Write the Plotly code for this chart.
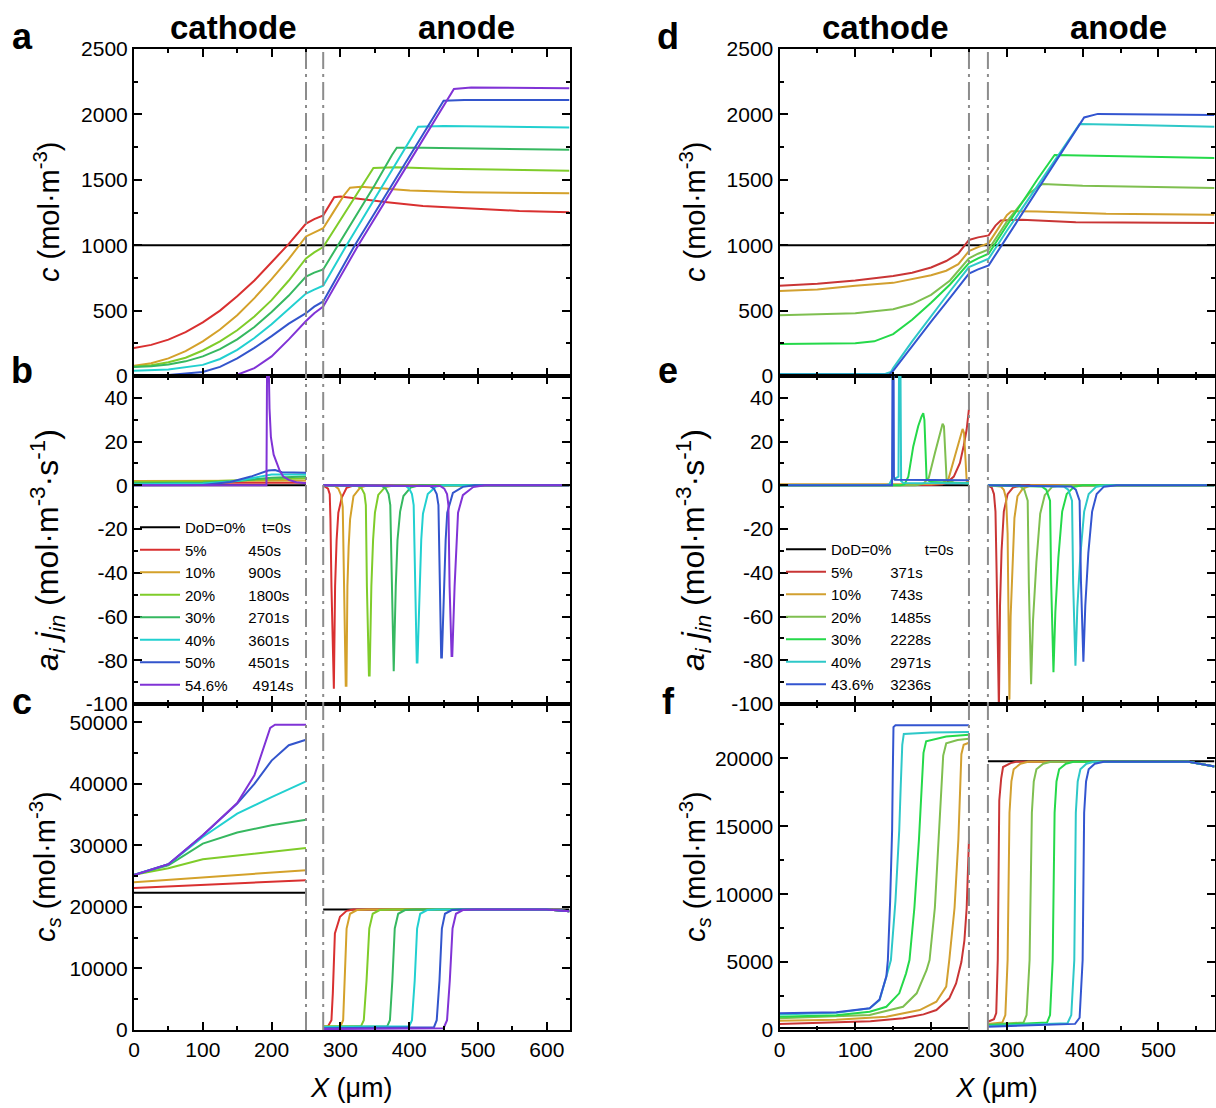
import plotly.graph_objects as go

FONT = "Arial, 'Liberation Sans', sans-serif"

# ---------------- legend text & colours ----------------
LEFT_DOD = ["DoD=0%", "5%", "10%", "20%", "30%", "40%", "50%", "54.6%"]
LEFT_TIME = ["t=0s", "450s", "900s", "1800s", "2701s", "3601s", "4501s", "4914s"]
LEFT_PAD = [4, 10, 8, 8, 8, 8, 8, 6]
RIGHT_DOD = ["DoD=0%", "5%", "10%", "20%", "30%", "40%", "43.6%"]
RIGHT_TIME = ["t=0s", "371s", "743s", "1485s", "2228s", "2971s", "3236s"]
RIGHT_PAD = [8, 9, 7, 7, 7, 7, 4]
LEFT_COLORS = ["#000000", "#d93030", "#d4a12a", "#7fcc2a", "#36b860", "#22d0d0", "#3355cc", "#8033d6"]
RIGHT_COLORS = ["#000000", "#c93535", "#d2a030", "#7fbf50", "#25d94a", "#2ec8c8", "#3355d0"]

# ---------------- panel a : c (left) ----------------
A0 = [(0, 1000), (633, 1000)]
A5 = [(0, 213), (25, 238), (50, 278), (75, 335), (100, 410), (125, 500), (150, 610), (175, 730), (200, 870),
      (225, 1010), (250, 1165), (262, 1200), (275, 1228), (283, 1300), (291, 1367), (300, 1372), (340, 1345),
      (368, 1329), (420, 1300), (494, 1278), (560, 1262), (633, 1252)]
A10 = [(0, 78), (25, 98), (50, 135), (75, 190), (100, 265), (125, 355), (150, 465), (175, 595), (200, 740),
       (225, 895), (250, 1067), (262, 1100), (275, 1130), (290, 1255), (305, 1380), (314, 1440), (330, 1447),
       (401, 1418), (480, 1405), (633, 1397)]
A20 = [(0, 72), (25, 82), (50, 105), (75, 140), (100, 195), (125, 265), (150, 350), (175, 455), (200, 580),
       (225, 730), (250, 899), (262, 945), (275, 986), (300, 1195), (325, 1400), (340, 1530), (348, 1590),
       (380, 1596), (450, 1585), (633, 1570)]
A30 = [(0, 68), (25, 74), (50, 88), (75, 112), (100, 150), (125, 205), (150, 280), (175, 375), (200, 490),
       (225, 615), (250, 760), (262, 790), (275, 815), (300, 1030), (325, 1245), (350, 1460), (375, 1690),
       (382, 1745), (420, 1745), (500, 1738), (633, 1730)]
A40 = [(0, 40), (50, 50), (100, 85), (125, 130), (150, 200), (175, 290), (200, 395), (225, 510), (250, 630),
       (262, 660), (275, 690), (309, 1000), (350, 1360), (400, 1795), (413, 1905), (450, 1912), (633, 1900)]
A50 = [(0, 5), (50, 8), (100, 30), (125, 70), (150, 135), (175, 215), (200, 305), (225, 400), (250, 480),
       (262, 530), (275, 570), (321, 1000), (380, 1505), (430, 1935), (450, 2104), (480, 2110), (633, 2110)]
A546 = [(0, 0), (100, 0), (150, 10), (175, 60), (200, 150), (225, 280), (250, 420), (262, 480), (275, 530),
        (326, 1000), (400, 1635), (455, 2110), (465, 2195), (490, 2205), (633, 2200)]

# ---------------- panel b : a_i j_in (left) ----------------
B0_CAT = [(0, 0), (250, 0)]
B0_AN = [(275, 0), (633, 0)]
B5_CAT = [(0, 1.2), (250, 1.2)]
B5_AN = [(275, 0), (278, -0.5), (282, -1.5), (284.5, -4), (285.5, -15), (287, -46), (289.5, -93), (290.5, -93),
         (292.3, -46), (294.5, -25), (297, -12.5), (302, -5.6), (309, -1.1), (320, 0), (633, 0)]
B10_CAT = [(0, 2.0), (250, 2.2)]
B10_AN = [(275, 0), (292, -0.3), (297, -1.5), (301, -4.5), (303.4, -10), (305, -46), (307.8, -91.6),
          (308.8, -91.6), (310.2, -46), (312, -28), (314.1, -15.5), (319, -4.9), (328.7, -1), (340, 0), (633, 0)]
B20_CAT = [(0, 1.5), (100, 1.8), (200, 2.8), (250, 3.2)]
B20_AN = [(275, 0), (325, -0.3), (331, -1.5), (335, -4), (337, -9), (338.5, -46), (341.5, -87), (342.5, -87),
          (345, -46), (347.5, -25), (350.2, -12.5), (355, -4.4), (365, -0.8), (380, 0), (633, 0)]
B30_CAT = [(0, 1.0), (100, 1.2), (150, 2.0), (200, 3.5), (250, 4.0)]
B30_AN = [(275, 0), (360, -0.3), (366, -1.5), (370, -4), (372.5, -9), (374.5, -46), (376.5, -85), (377.5, -85),
          (380.5, -46), (383, -25), (386.8, -12), (391.6, -4.9), (402, -1), (415, 0), (633, 0)]
B40_CAT = [(0, 0.5), (100, 0.8), (150, 2.0), (180, 4.0), (200, 5.0), (250, 5.0)]
B40_AN = [(275, 0), (395, -0.3), (400, -1.5), (404, -4), (406.5, -9), (408.6, -46), (411, -81), (412, -81),
          (415, -46), (417.5, -25), (420, -13), (427, -4), (439, -0.5), (450, 0), (633, 0)]
B50_CAT = [(0, 0), (100, 0.2), (140, 1.5), (170, 4.0), (195, 6.8), (205, 7.0), (215, 6.0), (250, 5.8)]
B50_AN = [(275, 0), (430, -0.3), (436, -1.5), (440, -4), (442.5, -9), (444.2, -46), (446.5, -78.7),
          (447.5, -78.7), (450.4, -46), (453, -25), (455.3, -12.5), (463.5, -3.5), (478, -0.7), (495, 0), (633, 0)]
B546_CAT = [(0, 0), (192.5, 0), (193.5, 60), (195.5, 60), (197, 35), (199, 22), (203, 14), (207, 10.5),
            (212, 6.5), (217, 4), (225, 2.5), (236, 1.4), (250, 1.0)]
B546_AN = [(275, 0), (445, -0.3), (451, -1.5), (455, -4), (457, -9), (458.7, -46), (461.6, -78), (462.6, -78),
           (466, -46), (468.5, -25), (471, -12.5), (478, -4.5), (493, -0.8), (510, 0), (633, 0)]

# ---------------- panel c : c_s (left) ----------------
C0_CAT = [(0, 22300), (250, 22300)]
C0_AN = [(275, 19600), (633, 19600)]
C5_CAT = [(0, 23100), (250, 24350)]
C5_AN = [(275, 540), (282, 600), (287, 1600), (289, 6000), (292, 15700), (299.4, 18400), (309, 19370),
         (319, 19590), (600, 19600), (633, 19300)]
C10_CAT = [(0, 24030), (250, 25970)]
C10_AN = [(275, 500), (300, 550), (304, 1600), (306.5, 8000), (309, 16500), (314, 18900), (324, 19500),
          (340, 19600), (600, 19600), (633, 19300)]
C20_CAT = [(0, 25220), (50, 26300), (100, 27760), (150, 28400), (200, 28950), (250, 29600)]
C20_AN = [(275, 600), (330, 640), (334, 1600), (338, 8000), (342, 16500), (347, 18900), (357, 19500),
          (375, 19600), (600, 19600), (633, 19300)]
C30_CAT = [(0, 25220), (50, 26780), (100, 30300), (150, 32100), (200, 33280), (250, 34200)]
C30_AN = [(275, 500), (368, 600), (372, 1600), (375.5, 8000), (379, 16500), (384, 18900), (394, 19500),
          (410, 19600), (600, 19600), (633, 19300)]
C40_CAT = [(0, 25220), (50, 26950), (100, 31380), (150, 35170), (200, 37870), (250, 40420)]
C40_AN = [(275, 500), (400, 600), (404, 1600), (408, 8000), (411.5, 16500), (416, 18900), (426, 19500),
          (440, 19600), (600, 19600), (633, 19300)]
C50_CAT = [(0, 25200), (50, 26950), (100, 31650), (150, 36800), (175, 40000), (200, 43800), (225, 46300),
           (250, 47190)]
C50_AN = [(275, 300), (436, 450), (440, 1600), (444, 8000), (447.5, 16500), (452, 18900), (462, 19500),
          (475, 19600), (600, 19600), (633, 19300)]
C546_CAT = [(0, 25200), (50, 26950), (100, 31650), (150, 36900), (175, 41400), (198, 49100), (205, 49620),
            (250, 49620)]
C546_AN = [(275, 150), (450, 300), (455, 1600), (459, 8000), (463, 16500), (468, 18900), (478, 19500),
           (495, 19600), (600, 19600), (633, 19300)]

# ---------------- panel d : c (right) ----------------
D0 = [(0, 1000), (574, 1000)]
D5 = [(0, 690), (50, 705), (100, 730), (150, 765), (175, 790), (200, 830), (220, 879), (236, 937), (250, 1040),
      (262, 1060), (276, 1075), (285, 1150), (292, 1189), (320, 1195), (391, 1176), (574, 1169)]
D10 = [(0, 650), (50, 662), (100, 690), (150, 712), (200, 770), (220, 805), (236, 855), (250, 955), (262, 985),
       (276, 1016), (290, 1140), (300, 1230), (306, 1260), (340, 1258), (431, 1240), (574, 1232)]
D20 = [(0, 465), (50, 470), (100, 480), (150, 510), (175, 550), (200, 620), (225, 730), (250, 900), (262, 935),
       (276, 968), (300, 1180), (330, 1400), (347, 1468), (400, 1455), (500, 1445), (574, 1438)]
D30 = [(0, 244), (50, 246), (100, 250), (125, 265), (150, 320), (175, 430), (200, 560), (225, 700), (250, 864),
       (262, 900), (276, 935), (300, 1150), (340, 1500), (363, 1690), (420, 1685), (574, 1667)]
D40 = [(0, 15), (100, 15), (140, 18), (147, 30), (150, 60), (175, 265), (200, 458), (225, 648), (250, 833),
       (262, 865), (276, 897), (300, 1110), (350, 1540), (396, 1926), (450, 1920), (574, 1905)]
D436 = [(0, 10), (100, 10), (145, 12), (150, 40), (175, 230), (200, 415), (226, 605), (250, 783), (262, 815),
        (276, 846), (300, 1060), (350, 1510), (402, 1977), (420, 2004), (574, 1995)]

# ---------------- panel e : a_i j_in (right) ----------------
E0_CAT = [(0, 0), (250, 0)]
E0_AN = [(275, 0), (574, 0)]
E5_CAT = [(0, 0), (200, 0.1), (215, 0.5), (220.5, 1.1), (230, 4), (238.1, 10.2), (243, 18), (246.9, 25.4),
          (250, 35)]
E5_AN = [(275, 0), (280, -1), (283, -4), (285, -12), (286.5, -40), (288.5, -102), (289.5, -102), (291, -55),
         (293, -30), (296, -12), (301, -4), (308, -1), (320, 0), (574, 0)]
E10_CAT = [(0, 0.5), (200, 0.6), (215, 1), (223, 3), (231.5, 13.4), (237, 20), (241.6, 25.8), (243.5, 24),
           (245, 15), (246, 4), (247, 2), (250, 1.5)]
E10_AN = [(275, 0), (292, -0.5), (296, -2), (299, -6), (301, -22), (302.3, -55), (303.4, -98), (305, -60),
          (307.5, -32), (310, -15), (314, -5), (321, -1.5), (332, 0), (574, 0)]
E20_CAT = [(0, 0), (180, 0), (190, 0.8), (197, 3.5), (205.1, 14.8), (211, 23), (215.2, 28.2), (217, 27),
           (218.5, 18), (219.6, 8), (220.5, 2.6), (230, 1.2), (250, 1.0)]
E20_AN = [(275, 0), (318, -0.5), (323, -2), (327.5, -7), (329, -45), (332, -91), (334.5, -62), (339, -35),
          (344, -13), (350, -4.5), (360, -0.6), (375, 0), (574, 0)]
E30_CAT = [(0, 0), (160, 0), (165, 0.5), (170, 4), (176.5, 17.8), (183, 27), (187.5, 31.5), (189.7, 33),
           (191.2, 30), (191.9, 22.4), (193, 10), (194.1, 2.6), (200, 1.5), (250, 1.0)]
E30_AN = [(275, 0), (346, -0.5), (352, -2), (357, -7), (358.5, -45), (361.5, -85.5), (364, -58), (368, -33),
          (373, -12), (379, -4), (389, -0.6), (400, 0), (574, 0)]
E40_CAT = [(0, 0), (140, 0), (145, 0.5), (148, 2.6), (152, 3), (157, 4), (157.8, 60), (159.5, 60), (160.5, 2),
           (163.3, 1.1), (250, 1.0)]
E40_AN = [(275, 0), (375, -0.5), (381, -2), (386, -7), (387.5, -45), (390.5, -82.5), (393, -56), (397, -32),
          (402, -12), (408, -4), (418, -0.6), (430, 0), (574, 0)]
E436_CAT = [(0, 0), (148.5, 0), (149.2, 60), (150.5, 60), (151, 4), (152.3, 2.6), (200, 2.4), (250, 2.3)]
E436_AN = [(275, 0), (385, -0.5), (391, -2), (396, -7), (397.8, -44), (401, -80.7), (403.5, -55), (407.5, -31),
           (412.5, -12), (418.5, -4), (428, -0.6), (445, 0), (574, 0)]

# ---------------- panel f : c_s (right) ----------------
F0_CAT = [(0, 150), (250, 150)]
F0_AN = [(275, 19780), (574, 19780)]
F5_CAT = [(0, 440), (75, 540), (120, 650), (163, 860), (190, 1150), (207, 1470), (224, 2330), (233, 3430),
          (240, 5000), (244, 6600), (247, 9000), (250, 14000)]
F5_AN = [(275, 610), (283, 800), (286, 1250), (288, 5150), (290, 16900), (292.5, 18500), (295, 19360),
         (305, 19650), (312, 19750), (540, 19750), (574, 19400)]
F10_CAT = [(0, 690), (75, 750), (141, 980), (185, 1470), (207, 2080), (220, 3190), (224, 5150), (231, 9000),
           (236, 14000), (238.5, 18000), (240, 20300), (243, 21000), (250, 21150)]
F10_AN = [(275, 450), (294, 550), (298, 1100), (301, 5150), (303.5, 16000), (306, 18300), (309, 19200),
          (318, 19600), (328, 19750), (540, 19750), (574, 19400)]
F20_CAT = [(0, 860), (75, 1000), (119, 1100), (163, 1710), (181, 2700), (194, 4400), (198, 5150), (205, 9000),
           (210, 14000), (213, 17500), (216, 20200), (220, 21100), (235, 21350), (250, 21450)]
F20_AN = [(275, 400), (322, 550), (326, 1100), (330, 5150), (333, 16000), (335.5, 18300), (339, 19200),
          (348, 19600), (358, 19750), (540, 19750), (574, 19400)]
F30_CAT = [(0, 980), (75, 1080), (119, 1350), (141, 1710), (158, 2700), (167, 4170), (171.5, 5150), (178, 9000),
           (184, 14000), (187, 17500), (190, 20400), (193.5, 21250), (220, 21600), (250, 21740)]
F30_AN = [(275, 350), (353, 550), (357, 1100), (360.5, 5150), (363, 16000), (365.5, 18300), (369, 19200),
          (378, 19600), (388, 19750), (540, 19750), (574, 19400)]
F40_CAT = [(0, 1150), (75, 1270), (119, 1590), (132, 2200), (141, 3920), (147, 5150), (153, 9500), (158, 14700),
           (160, 18000), (162, 21000), (164, 21800), (200, 21900), (250, 21940)]
F40_AN = [(275, 300), (380, 500), (385, 1100), (389, 5150), (391, 16000), (393.5, 18300), (397, 19200),
          (405, 19600), (415, 19750), (540, 19750), (574, 19400)]
F436_CAT = [(0, 1225), (75, 1300), (119, 1600), (132, 2250), (141, 3950), (143, 5150), (146, 9500), (148.6, 14700),
            (149.5, 19000), (150.4, 22300), (153, 22430), (250, 22430)]
F436_AN = [(275, 240), (390, 450), (396, 900), (400, 5150), (402, 16000), (404.5, 18300), (408, 19200),
           (416, 19600), (428, 19750), (540, 19750), (574, 19400)]

# ---------------- axis ticks ----------------
J_TICKS = [-100, -80, -60, -40, -20, 0, 20, 40]
J_TICKTEXT = ["-100", "-80", "-60", "-40", "-20", "0", "20", "40"]
SEPARATOR_X = [250, 275]

# ====================================================================
fig = go.Figure()


def add(parts, xa, ya, color, name="", showlegend=False, legend="legend"):
    xs, ys = [], []
    for i, pts in enumerate(parts):
        if i:
            xs.append(None)
            ys.append(None)
        xs += [p[0] for p in pts]
        ys += [p[1] for p in pts]
    fig.add_trace(go.Scatter(x=xs, y=ys, mode="lines", line=dict(color=color, width=2), name=name,
                             showlegend=showlegend, legend=legend, xaxis=xa, yaxis=ya,
                             hoverinfo="skip", connectgaps=False))


nb = "\u00a0"
left_names = [d + nb * p + t for d, p, t in zip(LEFT_DOD, LEFT_PAD, LEFT_TIME)]
right_names = [d + nb * p + t for d, p, t in zip(RIGHT_DOD, RIGHT_PAD, RIGHT_TIME)]

A_SER = [A0, A5, A10, A20, A30, A40, A50, A546]
B_SER = [(B0_CAT, B0_AN), (B5_CAT, B5_AN), (B10_CAT, B10_AN), (B20_CAT, B20_AN), (B30_CAT, B30_AN),
         (B40_CAT, B40_AN), (B50_CAT, B50_AN), (B546_CAT, B546_AN)]
C_SER = [(C0_CAT, C0_AN), (C5_CAT, C5_AN), (C10_CAT, C10_AN), (C20_CAT, C20_AN), (C30_CAT, C30_AN),
         (C40_CAT, C40_AN), (C50_CAT, C50_AN), (C546_CAT, C546_AN)]
D_SER = [D0, D5, D10, D20, D30, D40, D436]
E_SER = [(E0_CAT, E0_AN), (E5_CAT, E5_AN), (E10_CAT, E10_AN), (E20_CAT, E20_AN), (E30_CAT, E30_AN),
         (E40_CAT, E40_AN), (E436_CAT, E436_AN)]
F_SER = [(F0_CAT, F0_AN), (F5_CAT, F5_AN), (F10_CAT, F10_AN), (F20_CAT, F20_AN), (F30_CAT, F30_AN),
         (F40_CAT, F40_AN), (F436_CAT, F436_AN)]

for i, col in enumerate(LEFT_COLORS):
    add([A_SER[i]], "x", "y", col, left_names[i], True, "legend")
    add(list(B_SER[i]), "x2", "y2", col)
    add(list(C_SER[i]), "x3", "y3", col)
for i, col in enumerate(RIGHT_COLORS):
    add([D_SER[i]], "x4", "y4", col, right_names[i], True, "legend2")
    add(list(E_SER[i]), "x5", "y5", col)
    add(list(F_SER[i]), "x6", "y6", col)

W, H = 1216, 1108
XL = [134 / W, 569.5 / W]
XR = [779.5 / W, 1214.5 / W]
YA = [1 - 376 / H, 1 - 49 / H]
YB = [1 - 704 / H, 1 - 376 / H]
YC = [1 - 1030 / H, 1 - 704 / H]

tickfont = dict(family=FONT, size=21, color="black")


def xax(domain, anchor, rng, labels):
    return dict(domain=domain, anchor=anchor, range=rng, showline=True, linecolor="black", linewidth=2,
                mirror="ticks", ticks="inside", ticklen=8, tickwidth=2, tickcolor="black", tick0=0, dtick=100,
                showticklabels=labels, showgrid=False, zeroline=False, tickfont=tickfont, automargin=False,
                minor=dict(ticks="inside", ticklen=4, tickwidth=2, tickcolor="black", dtick=50, showgrid=False))


def yax(domain, anchor, rng, dtick, minor, **kw):
    d = dict(domain=domain, anchor=anchor, range=rng, showline=True, linecolor="black", linewidth=2,
             mirror="ticks", ticks="inside", ticklen=8, tickwidth=2, tickcolor="black", showgrid=False,
             zeroline=False, tickfont=tickfont, exponentformat="none", separatethousands=False,
             automargin=False,
             minor=dict(ticks="inside", ticklen=4, tickwidth=2, tickcolor="black", dtick=minor, showgrid=False))
    if dtick is not None:
        d.update(tick0=0, dtick=dtick)
    d.update(kw)
    return d


xtitle = dict(text="<i>X</i> (μm)", font=dict(family=FONT, size=27, color="black"), standoff=18)

fig.update_layout(
    width=W, height=H, autosize=False,
    margin=dict(l=0, r=0, t=0, b=0, autoexpand=False),
    plot_bgcolor="white", paper_bgcolor="white",
    font=dict(family=FONT, color="black"),
    xaxis=xax(XL, "y", [0, 633], False),
    xaxis2=xax(XL, "y2", [0, 633], False),
    xaxis3=dict(xax(XL, "y3", [0, 633], True), title=xtitle),
    xaxis4=xax(XR, "y4", [0, 574], False),
    xaxis5=xax(XR, "y5", [0, 574], False),
    xaxis6=dict(xax(XR, "y6", [0, 574], True), title=xtitle),
    yaxis=yax(YA, "x", [0, 2500], 500, 250),
    yaxis2=yax(YB, "x2", [-100, 50], None, 10, tickmode="array", tickvals=J_TICKS, ticktext=J_TICKTEXT),
    yaxis3=yax(YC, "x3", [0, 53000], 10000, 5000, tickformat="d"),
    yaxis4=yax(YA, "x4", [0, 2500], 500, 250),
    yaxis5=yax(YB, "x5", [-100, 50], None, 10, tickmode="array", tickvals=J_TICKS, ticktext=J_TICKTEXT),
    yaxis6=yax(YC, "x6", [0, 24000], 5000, 2500, tickformat="d"),
    legend=dict(x=135 / W, y=1 - 511 / H, xanchor="left", yanchor="top", bgcolor="rgba(0,0,0,0)",
                font=dict(family=FONT, size=15, color="black"), tracegroupgap=0, itemwidth=40),
    legend2=dict(x=781 / W, y=1 - 533 / H, xanchor="left", yanchor="top", bgcolor="rgba(0,0,0,0)",
                 font=dict(family=FONT, size=15, color="black"), tracegroupgap=0, itemwidth=40),
)

# separator dash-dot lines
shapes = []
for xr in ("x3", "x6"):
    for sx in SEPARATOR_X:
        shapes.append(dict(type="line", xref=xr, yref="paper", x0=sx, x1=sx, y0=YC[0], y1=1 - 52 / H,
                           line=dict(color="#8c8c8c", width=2, dash="18px,5px,3px,5px"), layer="above"))
fig.update_layout(shapes=shapes)

ann = []
ytitles = [
    (47, 212, 29, "<i>c</i> (mol·m<sup>-3</sup>)"),
    (47, 550, 32, "<i>a<sub>i</sub></i> <i>j<sub>in</sub></i> (mol·m<sup>-3</sup>·s<sup>-1</sup>)"),
    (45, 867, 29, "<i>c<sub>s</sub></i> (mol·m<sup>-3</sup>)"),
    (693, 212, 29, "<i>c</i> (mol·m<sup>-3</sup>)"),
    (693, 550, 32, "<i>a<sub>i</sub></i> <i>j<sub>in</sub></i> (mol·m<sup>-3</sup>·s<sup>-1</sup>)"),
    (695, 867, 29, "<i>c<sub>s</sub></i> (mol·m<sup>-3</sup>)"),
]
for xp, yp, fs, t in ytitles:
    ann.append(dict(text=t, x=xp / W, y=1 - yp / H, xref="paper", yref="paper", textangle=-90,
                    showarrow=False, xanchor="center", yanchor="middle",
                    font=dict(family=FONT, size=fs, color="black")))
labels = [(22, 36, "a"), (22, 370, "b"), (22, 701, "c"), (668, 36, "d"), (668, 370, "e"), (668, 701, "f"),
          (233, 27, "cathode"), (466, 27, "anode"), (885, 27, "cathode"), (1118, 27, "anode")]
for xp, yp, t in labels:
    ann.append(dict(text="<b>" + t + "</b>", x=xp / W, y=1 - yp / H, xref="paper", yref="paper",
                    showarrow=False, xanchor="center", yanchor="middle",
                    font=dict(family=FONT, size=36 if len(t) == 1 else 33, color="black")))
fig.update_layout(annotations=ann)

fig.write_html("out.html", config={"displayModeBar": False},
               post_script="document.body.style.margin='0px';document.body.style.overflow='hidden';")
